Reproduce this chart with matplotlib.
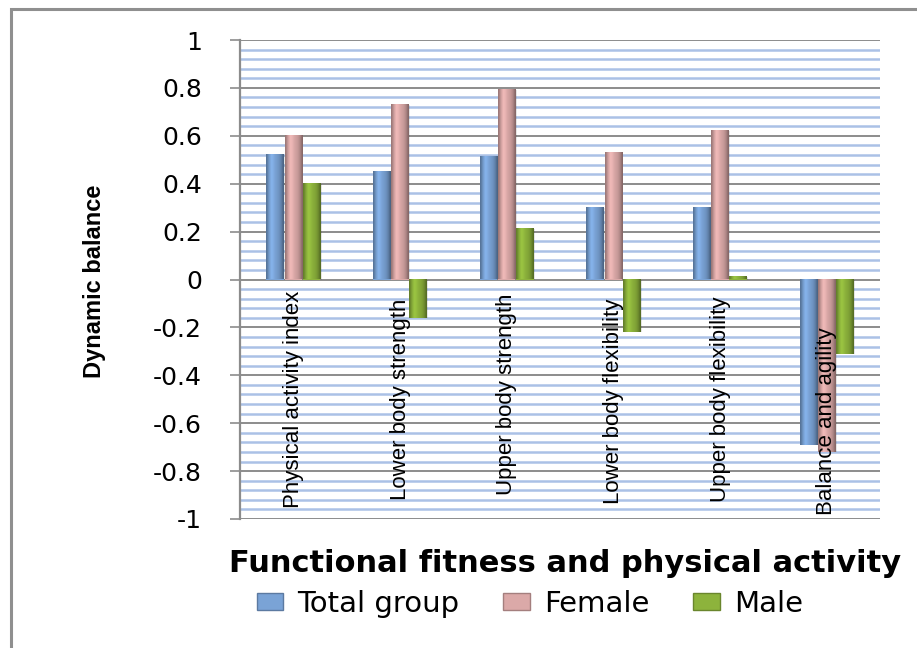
import numpy as np
import matplotlib
matplotlib.use("Agg")
import matplotlib.pyplot as plt
import matplotlib.font_manager as fm
from matplotlib.patches import Rectangle, Patch
from matplotlib.colors import to_rgb

# ---------------- data ----------------
categories = ["Physical activity index", "Lower body strength", "Upper body strength",
              "Lower body flexibility", "Upper body flexibility", "Balance and agility"]
series_names = ["Total group", "Female", "Male"]
total_group = [0.52, 0.45, 0.51, 0.30, 0.30, -0.69]
female = [0.60, 0.73, 0.79, 0.53, 0.62, -0.72]
male = [0.40, -0.16, 0.21, -0.22, 0.01, -0.31]
y_ticks = [1, 0.8, 0.6, 0.4, 0.2, 0, -0.2, -0.4, -0.6, -0.8, -1]
y_tick_labels = ["1", "0.8", "0.6", "0.4", "0.2", "0", "-0.2", "-0.4", "-0.6", "-0.8", "-1"]
x_title = "Functional fitness and physical activity"
y_title = "Dynamic balance"

# ---------------- style ----------------
colors = ["#7aa3d6", "#dba9a8", "#8db33c"]
label_y = [-0.50, -0.50, -0.48, -0.51, -0.50, -0.59]

names = {f.name for f in fm.fontManager.ttflist}
narrow = "Liberation Sans Narrow" in names
if narrow:
    cat_font = dict(family=["Liberation Sans Narrow", "DejaVu Sans"], size=19)
    ylab_font = dict(family=["Liberation Sans Narrow", "DejaVu Sans"], size=19, weight="bold")
else:
    cat_font = dict(family=["Liberation Sans", "DejaVu Sans"], size=16)
    ylab_font = dict(family=["Liberation Sans", "DejaVu Sans"], size=17, weight="bold")

plt.rcParams["axes.unicode_minus"] = False
W, H = 917, 648
fig = plt.figure(figsize=(W / 100, H / 100), dpi=100)
fig.patch.set_facecolor("white")

# outer chart border (left/top visible)
fig.patches.append(Rectangle((11 / W, -0.2), 1.5, 1.2 - 9 / H, transform=fig.transFigure,
                             fill=False, edgecolor="#8f8f8f", linewidth=2.2, zorder=0))

ax = fig.add_axes([240 / W, 1 - 519 / H, 640 / W, 479 / H])
ax.set_facecolor("white")

x = np.arange(len(categories))
pitch = 0.17
width = 0.165
data = [total_group, female, male]

# grid
minor = np.round(np.arange(-1, 1.0001, 0.04), 4)
for v in minor:
    if abs(round(v / 0.2) * 0.2 - v) > 1e-6:
        ax.axhline(v, color="#abc1e6", lw=1.8, zorder=1)
for v in y_ticks:
    ax.axhline(v, color="#8c8c8c", lw=1.4, zorder=1.5)

profile = np.array([0.72, 0.88, 1.02, 1.10, 1.06, 1.0, 0.96, 0.92, 0.86, 0.76, 0.62])
for i, (vals, c) in enumerate(zip(data, colors)):
    bars = ax.bar(x + (i - 1) * pitch, vals, width=width, color=c, edgecolor="none", zorder=3)
    base = np.array(to_rgb(c))
    grad = np.clip(base[None, :] * profile[:, None], 0, 1)[None, :, :]
    for b in bars:
        bx, by, bw, bh = b.get_x(), b.get_y(), b.get_width(), b.get_height()
        y0, y1 = min(by, by + bh), max(by, by + bh)
        if y1 - y0 < 1e-9:
            continue
        ax.imshow(grad, extent=[bx, bx + bw, y0, y1], aspect="auto", zorder=3.2,
                  interpolation="bilinear")
        ax.add_patch(Rectangle((bx + bw, y0), 0.012, y1 - y0, color="#000000", alpha=0.10,
                               zorder=2.9, lw=0))

ax.set_xlim(-0.5, len(categories) - 0.5)
ax.set_ylim(-1, 1)

# category labels inside plot
for xi, lab, ly in zip(x, categories, label_y):
    ax.text(xi, ly, lab, rotation=90, ha="center", va="center", zorder=5, **cat_font)

ax.set_xticks([])
ax.set_yticks(y_ticks)
ax.set_yticklabels(y_tick_labels, fontsize=18, family="DejaVu Sans")
ax.tick_params(axis="y", length=7.2, width=1.2, color="#8c8c8c", pad=20, direction="out")
for s in ["top", "right", "bottom"]:
    ax.spines[s].set_visible(False)
ax.spines["left"].set_color("#8c8c8c")
ax.spines["left"].set_linewidth(1.6)

fig.text(95 / W, 1 - 281 / H, y_title, rotation=90, ha="center", va="center", **ylab_font)
fig.text(565 / W, 1 - 563 / H, x_title, ha="center", va="center", fontsize=22,
         fontweight="bold", family="DejaVu Sans")

handles = [Patch(facecolor=c, edgecolor=np.clip(np.array(to_rgb(c)) * 0.75, 0, 1), lw=1)
           for c in colors]
fig.legend(handles, series_names, loc="center", bbox_to_anchor=(530 / W, 1 - 604 / H),
           ncol=3, frameon=False, prop=dict(family="DejaVu Sans", size=21),
           handlelength=0.9, handleheight=0.5, handletextpad=0.5, columnspacing=1.5,
           borderpad=0, borderaxespad=0)

fig.savefig("out.png", dpi=100, facecolor="white")
